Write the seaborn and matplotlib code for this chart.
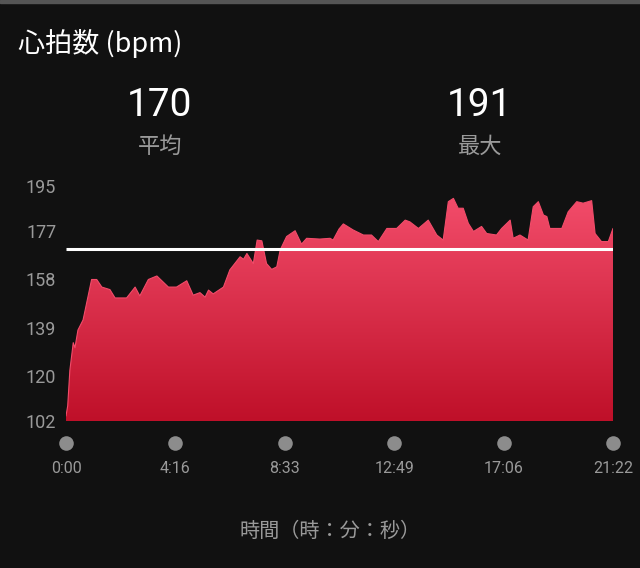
import numpy as np
import pandas as pd
import matplotlib
matplotlib.use("Agg")
import matplotlib.pyplot as plt
from matplotlib.colors import LinearSegmentedColormap
from matplotlib.patches import Rectangle
import seaborn as sns

# ---- data ----
time_s = [0, 4, 9, 17, 21, 28, 40, 60, 72, 84, 103, 115, 142, 162, 173, 193, 213,
          240, 259, 283, 298, 314, 326, 334, 345, 369, 384, 408, 416, 424, 439, 448,
          459, 470, 482, 494, 502, 517, 537, 552, 564, 595, 619, 626, 640, 650, 673,
          697, 716, 732, 752, 775, 795, 806, 826, 849, 869, 884, 896, 908, 919, 931,
          943, 955, 974, 986, 1009, 1021, 1041, 1048, 1064, 1083, 1095, 1107, 1119,
          1127, 1134, 1150, 1162, 1177, 1197, 1212, 1232, 1240, 1255, 1271, 1282]
bpm = [104, 108, 122, 133, 131, 138, 142, 158, 158, 155, 154, 150.7, 150.7, 155, 151.5,
       158, 159.4, 155, 155, 157.5, 151.8, 152.8, 151, 153.8, 152.3, 155, 161.8, 167,
       166, 168.3, 164.3, 173.6, 173.3, 164.3, 162, 163, 169.7, 175, 177.3, 172, 174.3,
       174, 174.3, 173.6, 178, 180, 177.6, 175.6, 175.6, 173, 178.2, 178.2, 181.5,
       180.8, 178.2, 181.5, 175.6, 173.6, 188.8, 190.1, 186.2, 186.2, 180.2, 177,
       179, 176.2, 175.6, 178.2, 181.5, 174.3, 175.6, 173.6, 186.8, 188.8, 183.5,
       182.9, 178.2, 178.2, 178.2, 184.8, 188.8, 188.2, 189.2, 176.2, 173, 173, 178.2]
avg_bpm = 170
max_bpm = 191
y_ticks = [102, 120, 139, 158, 177, 195]
x_ticks = [0, 256, 513, 769, 1026, 1282]
x_tick_labels = ["0:00", "4:16", "8:33", "12:49", "17:06", "21:22"]

df = pd.DataFrame({"t": time_s, "bpm": bpm})

BG = "#111111"
GREY = "#9a9a9a"
JP = ["Noto Sans CJK JP", "DejaVu Sans"]
NUM = ["Roboto", "DejaVu Sans"]

sns.set_theme(style="dark")
plt.rcParams["font.family"] = JP

fig = plt.figure(figsize=(6.4, 5.68), dpi=100, facecolor=BG)
ax = fig.add_axes([66 / 640, 147 / 568, 547 / 640, 235 / 568])
ax.set_facecolor(BG)

ymin, ymax = y_ticks[0], y_ticks[-1]
xmin, xmax = x_ticks[0], x_ticks[-1]

# gradient fill under curve
poly = ax.fill_between(df["t"], df["bpm"], ymin, color="none", lw=0)
cmap = LinearSegmentedColormap.from_list("hr", ["#bf1029", "#f24c6a"])
grad = np.linspace(0, 1, 256).reshape(-1, 1)
top = max(df["bpm"])
im = ax.imshow(grad, cmap=cmap, aspect="auto", origin="lower",
               extent=[xmin, xmax, ymin, top], zorder=1)
path = poly.get_paths()[0]
im.set_clip_path(path, transform=ax.transData)
sns.lineplot(data=df, x="t", y="bpm", ax=ax, color="#f24c6a", lw=0.8, zorder=2)

# average line
ax.plot([xmin, xmax], [avg_bpm, avg_bpm], color="white", lw=2.2, zorder=3,
        solid_capstyle="butt")

ax.set_xlim(xmin, xmax)
ax.set_ylim(ymin, ymax)
ax.set_xlabel("")
ax.set_ylabel("")
for s in ax.spines.values():
    s.set_visible(False)
ax.grid(False)

ax.set_yticks(y_ticks)
ax.set_yticklabels([str(v) for v in y_ticks], fontfamily=NUM, fontsize=13, color=GREY)
ax.tick_params(axis="y", length=0, pad=7)
ax.set_xticks(x_ticks)
ax.set_xticklabels(x_tick_labels, fontfamily=NUM, fontsize=11.5, color=GREY)
ax.tick_params(axis="x", length=0, pad=29)

# dots under ticks
ax.scatter(x_ticks, [ymin - 22 / 235 * (ymax - ymin)] * len(x_ticks), s=110,
           color="#8c8c8c", clip_on=False, zorder=4, linewidths=0)

# texts
fig.text(18 / 640, 1 - 44 / 568, "心拍数 (bpm)", color="white", fontsize=19.5,
         va="center", ha="left", family=JP)
fig.text(160 / 640, 1 - 106 / 568, str(avg_bpm), color="white", fontsize=28,
         va="center", ha="center", family=NUM)
fig.text(479 / 640, 1 - 106 / 568, str(max_bpm), color="white", fontsize=28,
         va="center", ha="center", family=NUM)
fig.text(160 / 640, 1 - 146 / 568, "平均", color=GREY, fontsize=16,
         va="center", ha="center", family=JP)
fig.text(480 / 640, 1 - 146 / 568, "最大", color=GREY, fontsize=16,
         va="center", ha="center", family=JP)
fig.text(330 / 640, 1 - 531 / 568, "時間（時：分：秒）", color=GREY, fontsize=14.5,
         va="center", ha="center", family=JP)

fig.patches.append(Rectangle((0, 1 - 2.5 / 568), 1, 2.5 / 568, transform=fig.transFigure,
                             color="#555555", zorder=5))

fig.savefig("out.png", dpi=100, facecolor=BG)
